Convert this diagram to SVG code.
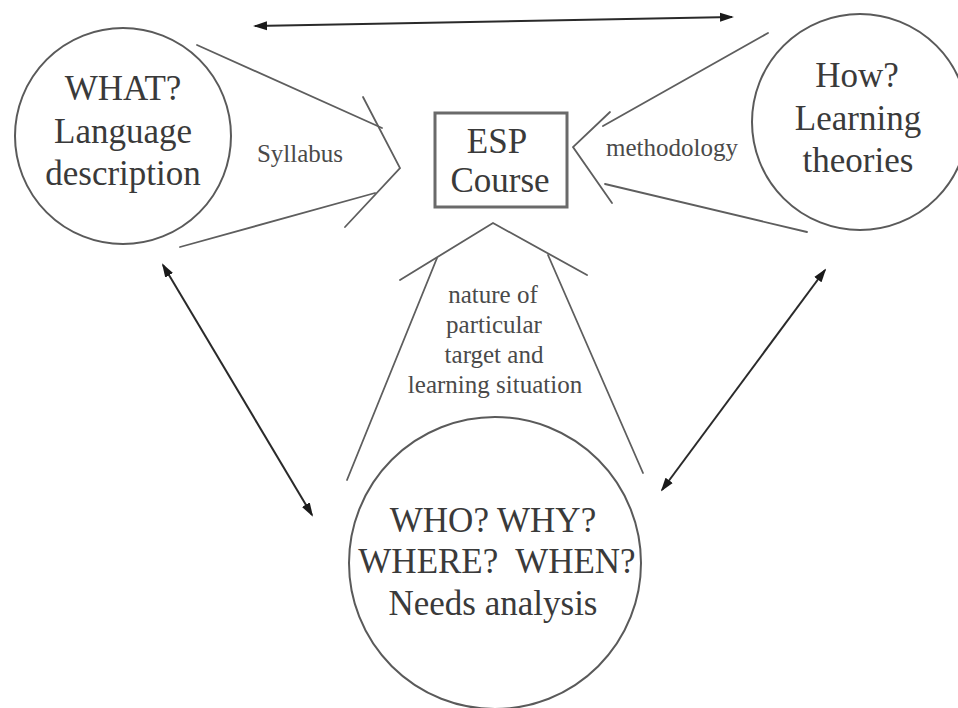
<svg xmlns="http://www.w3.org/2000/svg" width="958" height="708" viewBox="0 0 958 708">
<style>
  .bg { fill: #ffffff; }
  .circ { fill: none; stroke: #5a5a5a; stroke-width: 2; }
  .box { fill: none; stroke: #6a6a6a; stroke-width: 3; }
  .wedge { fill: none; stroke: #5e5e5e; stroke-width: 1.8; stroke-linecap: round; stroke-linejoin: miter; }
  .dbl { fill: none; stroke: #2a2a2a; stroke-width: 2; }
  .big { font-family: "Liberation Serif", "Times New Roman", serif; font-size: 35px; fill: #3a3a3a; text-anchor: middle; }
  .small { font-family: "Liberation Serif", "Times New Roman", serif; font-size: 25px; fill: #4a4a4a; text-anchor: middle; }
</style>
<defs>
  <marker id="head" markerUnits="userSpaceOnUse" markerWidth="14" markerHeight="10" refX="12" refY="5" orient="auto-start-reverse" viewBox="0 0 14 10">
    <path d="M0,0.5 L14,5 L0,9.5 Z" fill="#1a1a1a"/>
  </marker>
</defs>
<rect class="bg" x="0" y="0" width="958" height="708"/>

<g id="what">
  <circle class="circ" cx="123" cy="136" r="108"/>
  <text class="big" x="123" y="100">WHAT?</text>
  <text class="big" x="123" y="143">Language</text>
  <text class="big" x="123" y="185">description</text>
</g>

<g id="how">
  <circle class="circ" cx="860" cy="122" r="108"/>
  <text class="big" x="857" y="87">How?</text>
  <text class="big" x="858" y="130">Learning</text>
  <text class="big" x="858" y="172">theories</text>
</g>

<g id="esp">
  <rect class="box" x="435" y="113" width="132" height="94"/>
  <text class="big" x="497" y="153">ESP</text>
  <text class="big" x="500" y="192">Course</text>
</g>

<g id="needs">
  <circle class="circ" cx="495" cy="563" r="146"/>
  <text class="big" x="493" y="532">WHO? WHY?</text>
  <text class="big" x="497" y="573" xml:space="preserve">WHERE?  WHEN?</text>
  <text class="big" x="493" y="615">Needs analysis</text>
</g>

<g id="connectors">
  <!-- Syllabus wedge -->
  <line class="wedge" x1="197" y1="45" x2="382" y2="128"/>
  <line class="wedge" x1="180" y1="247" x2="375" y2="193"/>
  <polyline class="wedge" points="363,97 400,168 345,227"/>
  <!-- methodology wedge -->
  <line class="wedge" x1="768" y1="33" x2="603" y2="126"/>
  <line class="wedge" x1="605" y1="184" x2="807" y2="232"/>
  <polyline class="wedge" points="610,112 573,147 612,203"/>
  <!-- needs wedge -->
  <line class="wedge" x1="437" y1="258" x2="347" y2="480"/>
  <line class="wedge" x1="548" y1="255" x2="643" y2="473"/>
  <polyline class="wedge" points="400,280 493,223 587,275"/>
  <!-- double arrows -->
  <line class="dbl" x1="255" y1="26" x2="732" y2="17" marker-start="url(#head)" marker-end="url(#head)"/>
  <line class="dbl" x1="163" y1="265" x2="312" y2="515" marker-start="url(#head)" marker-end="url(#head)"/>
  <line class="dbl" x1="825" y1="270" x2="662" y2="490" marker-start="url(#head)" marker-end="url(#head)"/>
</g>

<g id="labels">
  <text class="small" x="300" y="162">Syllabus</text>
  <text class="small" x="672" y="156">methodology</text>
  <text class="small" x="493" y="303">nature of</text>
  <text class="small" x="494" y="333">particular</text>
  <text class="small" x="494" y="363">target and</text>
  <text class="small" x="495" y="393">learning situation</text>
</g>
</svg>
